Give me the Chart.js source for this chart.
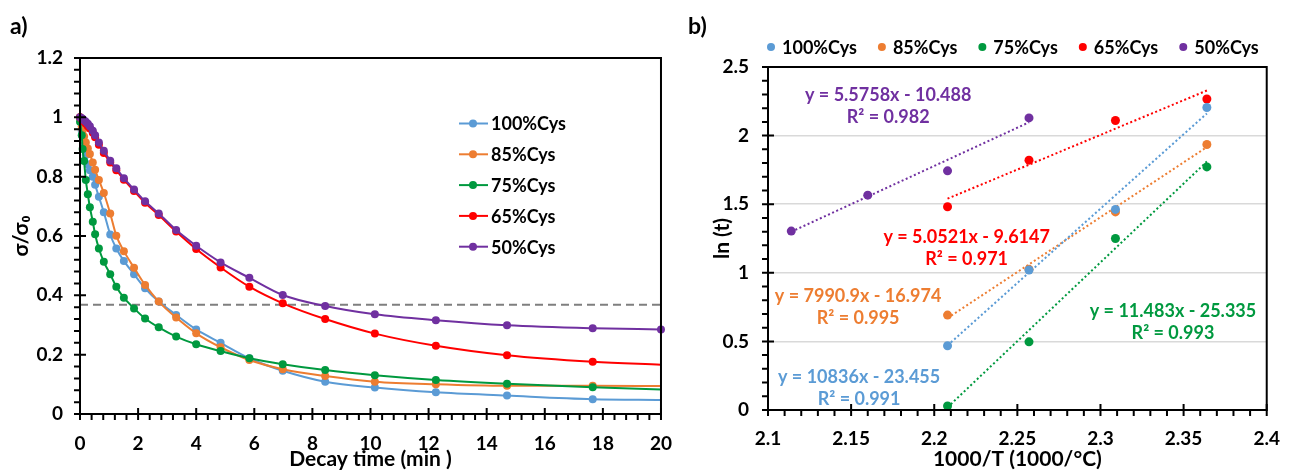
<!DOCTYPE html>
<html>
<head>
<meta charset="utf-8">
<script src="https://cdn.jsdelivr.net/npm/chart.js@4.4.1/dist/chart.umd.min.js"></script>
<style>
  body { margin: 0; background: #fff; }
  #wrap { position: relative; width: 1297px; height: 470px; }
  canvas { position: absolute; top: 0; }
  #decayChart { left: 0; }
  #arrhChart { left: 690px; }
  .tag { position: absolute; top: 11px; font: bold 23px Lato, sans-serif; color: #000; }
</style>
</head>
<body>
<div id="wrap">
  <canvas id="decayChart" width="690" height="470"></canvas>
  <canvas id="arrhChart" width="607" height="470"></canvas>
  <div class="tag" style="left:10px">a)</div>
  <div class="tag" style="left:688px">b)</div>
</div>
<script>
// --- DATA ---
const seriesNames = ['100%Cys', '85%Cys', '75%Cys', '65%Cys', '50%Cys'];
const seriesColors = ['#5B9BD5', '#ED7D31', '#00993F', '#FF0000', '#7030A0'];

// a) stress relaxation
const decayTime = [0, 0.06, 0.09, 0.14, 0.2, 0.27, 0.34, 0.44, 0.52, 0.65, 0.82, 1.04, 1.25, 1.51, 1.86, 2.24, 2.71, 3.31, 4.0, 4.84, 5.83, 6.98, 8.44, 10.15, 12.25, 14.7, 17.65, 20];
const decay100 = [1.0, 0.955, 0.935, 0.905, 0.873, 0.842, 0.822, 0.800, 0.773, 0.732, 0.680, 0.605, 0.558, 0.516, 0.471, 0.424, 0.379, 0.334, 0.285, 0.240, 0.188, 0.146, 0.109, 0.089, 0.073, 0.062, 0.050, 0.047];
const decay85 = [1.0, 0.970, 0.955, 0.935, 0.915, 0.895, 0.876, 0.848, 0.823, 0.789, 0.745, 0.676, 0.601, 0.549, 0.493, 0.435, 0.379, 0.325, 0.272, 0.225, 0.182, 0.151, 0.128, 0.109, 0.100, 0.095, 0.095, 0.094];
const decay75 = [0.985, 0.940, 0.893, 0.853, 0.789, 0.741, 0.697, 0.648, 0.606, 0.558, 0.513, 0.471, 0.429, 0.392, 0.356, 0.322, 0.292, 0.261, 0.235, 0.212, 0.188, 0.168, 0.148, 0.131, 0.115, 0.102, 0.090, 0.083];
const decay65 = [1.0, 0.995, 0.990, 0.985, 0.978, 0.970, 0.962, 0.948, 0.933, 0.908, 0.880, 0.848, 0.822, 0.790, 0.752, 0.712, 0.671, 0.615, 0.556, 0.494, 0.429, 0.373, 0.320, 0.271, 0.230, 0.198, 0.176, 0.166];
const decay50 = [1.0, 0.997, 0.994, 0.990, 0.985, 0.978, 0.970, 0.955, 0.940, 0.915, 0.887, 0.854, 0.828, 0.795, 0.757, 0.717, 0.676, 0.620, 0.567, 0.511, 0.459, 0.401, 0.364, 0.336, 0.316, 0.299, 0.289, 0.285];
const thresholdLevel = 0.368;

// b) Arrhenius plot
const invTemp = [2.114, 2.160, 2.208, 2.257, 2.309, 2.364];
const lnt100 = [null, null, 0.468, 1.020, 1.462, 2.205];
const lnt85 = [null, null, 0.692, 1.025, 1.444, 1.935];
const lnt75 = [null, null, 0.029, 0.497, 1.250, 1.772];
const lnt65 = [null, null, 1.481, 1.821, 2.110, 2.267];
const lnt50 = [1.304, 1.566, 1.743, 2.129, null, null];
const trendSlope = [10.836, 7.9909, 11.483, 5.0521, 5.5758];
const trendIntercept = [-23.455, -16.974, -25.335, -9.6147, -10.488];
const eqLabels = ['y = 10836x - 23.455', 'y = 7990.9x - 16.974', 'y = 11.483x - 25.335', 'y = 5.0521x - 9.6147', 'y = 5.5758x - 10.488'];
const r2Labels = ['R\u00B2 = 0.991', 'R\u00B2 = 0.995', 'R\u00B2 = 0.993', 'R\u00B2 = 0.971', 'R\u00B2 = 0.982'];

const FONT = 'Lato, "Open Sans", sans-serif';

// --- Excel-like frame, minor ticks, legend and text labels ---
const excelFrame = {
  id: 'excelFrame',
  afterDraw(chart, args, o) {
    const { ctx, chartArea: a } = chart;
    const xs = chart.scales.x, ys = chart.scales.y;
    ctx.save();
    ctx.strokeStyle = '#000';
    ctx.lineWidth = 2;
    ctx.strokeRect(a.left, a.top, a.right - a.left, a.bottom - a.top);

    // tick marks: major ones cross the axis, minor ones sit outside
    ctx.beginPath();
    const nx = Math.round((xs.max - xs.min) / o.xMinor);
    for (let i = 0; i <= nx; i++) {
      const px = xs.getPixelForValue(xs.min + i * o.xMinor);
      ctx.moveTo(px, a.bottom + (i % o.xEvery === 0 ? -6 : 0));
      ctx.lineTo(px, a.bottom + 6);
    }
    const ny = Math.round((ys.max - ys.min) / o.yMinor);
    for (let i = 0; i <= ny; i++) {
      const py = ys.getPixelForValue(ys.min + i * o.yMinor);
      ctx.moveTo(a.left + (i % o.yEvery === 0 ? 6 : 0), py);
      ctx.lineTo(a.left - 6, py);
    }
    ctx.stroke();

    // legend
    const lg = o.legend;
    ctx.font = 'bold 18px ' + FONT;
    ctx.textBaseline = 'middle';
    ctx.textAlign = 'left';
    let cx = lg.x;
    chart.data.datasets.filter(d => d.inLegend).forEach((d, i) => {
      const c = d.borderColor;
      if (lg.column) {
        const y = lg.y + i * lg.step;
        ctx.strokeStyle = c; ctx.lineWidth = 2;
        ctx.beginPath(); ctx.moveTo(lg.x, y); ctx.lineTo(lg.x + 29, y); ctx.stroke();
        ctx.fillStyle = c;
        ctx.beginPath(); ctx.arc(lg.x + 14, y, 4, 0, Math.PI * 2); ctx.fill();
        ctx.fillStyle = '#000';
        ctx.fillText(d.label, lg.x + 32, y + 1);
      } else {
        ctx.fillStyle = c;
        ctx.beginPath(); ctx.arc(cx, lg.y, 4, 0, Math.PI * 2); ctx.fill();
        ctx.fillStyle = '#000';
        ctx.fillText(d.label, cx + 11, lg.y + 1);
        cx += 11 + ctx.measureText(d.label).width + lg.gap;
      }
    });

    // trendline equations
    if (o.notes) {
      ctx.font = 'bold 18px ' + FONT;
      ctx.textAlign = 'center';
      o.notes.forEach(n => {
        const px = xs.getPixelForValue(n.x), py = ys.getPixelForValue(n.y);
        ctx.fillStyle = n.color;
        ctx.fillText(n.lines[0], px, py);
        ctx.fillText(n.lines[1], px, py + 22);
      });
    }
    ctx.restore();
  }
};

const tickFont = { family: FONT, size: 19, weight: 'bold' };
const titleFont = { family: FONT, size: 21, weight: 'bold', lineHeight: 1 };

// --- a) decay chart ---
const decaySets = [decay100, decay85, decay75, decay65, decay50].map((vals, i) => ({
  label: seriesNames[i],
  inLegend: true,
  data: vals.map((v, k) => ({ x: decayTime[k], y: v })),
  borderColor: seriesColors[i],
  backgroundColor: seriesColors[i],
  borderWidth: 2,
  pointRadius: ctx => (ctx.dataIndex === vals.length - 1 && i !== 4) ? 0 : 4,
  pointBorderWidth: 0,
  showLine: true,
  cubicInterpolationMode: 'monotone',
  clip: false,
  order: 4 - i
}));
decaySets.push({
  label: 'threshold',
  inLegend: false,
  data: [{ x: 0, y: thresholdLevel }, { x: 20, y: thresholdLevel }],
  borderColor: '#7F7F7F',
  borderWidth: 2,
  borderDash: [8, 5],
  pointRadius: 0,
  showLine: true,
  order: 9
});

new Chart(document.getElementById('decayChart'), {
  type: 'scatter',
  data: { datasets: decaySets },
  plugins: [excelFrame],
  options: {
    responsive: false,
    animation: false,
    events: [],
    layout: { padding: { top: 58, right: 21, left: 0, bottom: 0 } },
    plugins: {
      legend: { display: false },
      tooltip: { enabled: false },
      excelFrame: {
        xMinor: 0.4, xEvery: 5, yMinor: 0.04, yEvery: 5,
        legend: { column: true, x: 459, y: 123.5, step: 30.8 }
      }
    },
    scales: {
      x: {
        type: 'linear', min: 0, max: 20,
        afterFit: s => { s.height = 56; },
        grid: { display: false, drawTicks: false },
        border: { display: false },
        ticks: { stepSize: 2, autoSkip: false, maxRotation: 0, padding: 18, color: '#000', font: tickFont },
        title: { display: true, text: 'Decay time (min )', color: '#000', font: titleFont, padding: { top: 0, bottom: 0 } }
      },
      y: {
        min: 0, max: 1.2,
        afterFit: s => { s.width = 80; },
        grid: { display: false, drawTicks: false },
        border: { display: false },
        ticks: { stepSize: 0.2, padding: 17, color: '#000', font: tickFont, callback: v => String(+v.toFixed(1)) },
        title: { display: true, text: 'σ/σ\u2080', color: '#000', font: titleFont, padding: { top: 11, bottom: 0 } }
      }
    }
  }
});

// --- b) Arrhenius chart ---
const lnSeries = [lnt100, lnt85, lnt75, lnt65, lnt50];
const arrhSets = lnSeries.map((vals, i) => ({
  label: seriesNames[i],
  inLegend: true,
  data: invTemp.map((x, k) => ({ x: x, y: vals[k] })).filter(p => p.y !== null),
  borderColor: seriesColors[i],
  backgroundColor: seriesColors[i],
  pointRadius: 4.5,
  pointBorderWidth: 0,
  showLine: false,
  clip: false,
  order: 0
}));
lnSeries.forEach((vals, i) => {
  const xs = invTemp.filter((x, k) => vals[k] !== null);
  const x0 = xs[0], x1 = xs[xs.length - 1];
  arrhSets.push({
    label: seriesNames[i] + ' trend',
    inLegend: false,
    data: [{ x: x0, y: trendSlope[i] * x0 + trendIntercept[i] }, { x: x1, y: trendSlope[i] * x1 + trendIntercept[i] }],
    borderColor: seriesColors[i],
    borderWidth: 2,
    borderDash: [2, 2.5],
    pointRadius: 0,
    showLine: true,
    order: 1
  });
});

new Chart(document.getElementById('arrhChart'), {
  type: 'scatter',
  data: { datasets: arrhSets },
  plugins: [excelFrame],
  options: {
    responsive: false,
    animation: false,
    events: [],
    layout: { padding: { top: 67, right: 14, left: 0, bottom: 0 } },
    plugins: {
      legend: { display: false },
      tooltip: { enabled: false },
      excelFrame: {
        xMinor: 0.01, xEvery: 5, yMinor: 0.1, yEvery: 5,
        legend: { column: false, x: 81, y: 47, gap: 25 },
        notes: [
          { x: 2.1548, y: 0.24, color: seriesColors[0], lines: [eqLabels[0], r2Labels[0]] },
          { x: 2.1542, y: 0.83, color: seriesColors[1], lines: [eqLabels[1], r2Labels[1]] },
          { x: 2.3436, y: 0.721, color: seriesColors[2], lines: [eqLabels[2], r2Labels[2]] },
          { x: 2.2195, y: 1.26, color: seriesColors[3], lines: [eqLabels[3], r2Labels[3]] },
          { x: 2.1723, y: 2.294, color: seriesColors[4], lines: [eqLabels[4], r2Labels[4]] }
        ]
      }
    },
    scales: {
      x: {
        type: 'linear', min: 2.1, max: 2.4,
        afterFit: s => { s.height = 60; },
        grid: { display: false, drawTicks: false },
        border: { display: false },
        ticks: { stepSize: 0.05, autoSkip: false, maxRotation: 0, padding: 17, color: '#000', font: tickFont, callback: v => String(+v.toFixed(2)) },
        title: { display: true, text: '1000/T (1000/°C)', color: '#000', font: titleFont, padding: { top: 0, bottom: 0 } }
      },
      y: {
        min: 0, max: 2.5,
        afterFit: s => { s.width = 78; },
        grid: { color: '#D9D9D9', lineWidth: 1.5, drawTicks: false },
        border: { display: false },
        ticks: { stepSize: 0.5, padding: 19, color: '#000', font: tickFont, callback: v => String(+v.toFixed(1)) },
        title: { display: true, text: 'ln (t)', color: '#000', font: titleFont, padding: { top: 22, bottom: 0 } }
      }
    }
  }
});
</script>
</body>
</html>
